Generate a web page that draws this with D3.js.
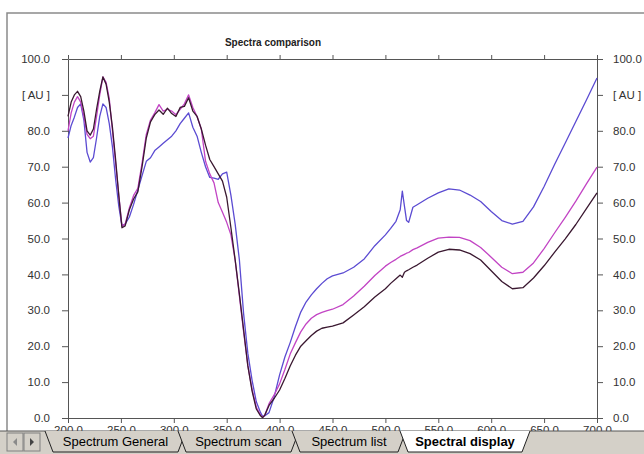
<!DOCTYPE html>
<html>
<head>
<meta charset="utf-8">
<script src="https://cdn.jsdelivr.net/npm/d3@7"></script>
<style>
body { margin: 0; background: #fff; }
svg { display: block; font-family: "Liberation Sans", Arial, sans-serif; }
</style>
</head>
<body>
<div class="chart"></div>
<script>
// wavelengths (nm) shared by the three spectra
var wavelengths = [200,203,206,209,212,215,218,221,224,227,230,233,236,239,242,245,248,251,
  254,
  258,262,266,270,274,278,282,286,290,294,298,302,306,310,314,318,322,326,330,334,338,342,346,350,354,358,362,366,370,374,378,382,
  384,386,390,395,
  400,405,410,415,420,425,430,435,440,445,450,
  460,470,480,490,500,
  505,510,514,516,518,520,522,526,530,
  540,550,560,570,580,590,600,610,620,630,640,650,660,670,680,690,700];

var darkValues = [84,88,90,91,89.5,85.5,80,78.8,80.5,86,91,95,93,88,81,72,62,53,
  53.5,
  58,61,63,70,78,82.5,84.5,85.8,84.6,86.3,84.8,84,86.5,86.8,89.2,85.5,84,80.5,76,72,70,68,66,61.5,53,44,34.5,24.5,14.5,7.5,2.5,0.6,
  0.1,0.8,3.5,5.5,
  7.8,11,14.5,17.5,20,21.5,23,24.2,25,25.3,25.6,
  26.5,28.7,31,33.7,36,
  37.5,38.8,39.8,39.2,40.6,41,41.3,42,42.6,
  44.5,46.2,47,46.8,45.8,44,41,38,36,36.3,39,42.4,46.2,49.9,53.9,58.3,62.7];

var magentaValues = [80,85,88,89.5,88,84,79,77.8,78.5,84,90,95,93.5,89,80,71,62,53.5,
  54,
  58.5,62,64,71,79,83,85,87.3,85.5,86,85.5,84.5,86,87.5,90,86.5,84,80.5,71.5,68,65.5,60,57.3,54.5,51,44,34,24,14.5,8,3,0.8,
  0.2,0.8,4,6.5,
  9.5,13.5,17.8,21,24,26.2,27.8,28.8,29.4,29.9,30.3,
  31.6,34,36.7,39.7,42.3,
  43.3,44.2,45,45.3,45.6,45.9,46.1,46.9,47.4,
  48.9,50.1,50.4,50.3,49.4,47.5,44.8,42,40.2,40.6,43.2,47.2,51.6,55.9,60.4,65.2,69.9];

var blueValues = [78,81.5,83.8,86.5,87.5,83,74,71.3,72.5,78,84,87.5,86.5,82,75.5,66.5,59,53.5,
  54,
  56,59.5,63.5,67.5,71.5,72.5,74.5,75.5,76.5,77.5,78.5,80,82,83.5,85,81,78.5,74,70,67,66.8,66.5,68,68.5,62,54,44,29,18,10.5,4.5,1.5,
  0.4,0.6,1.5,6,
  12,17,21,25.5,29.5,32.3,34.3,36,37.5,38.8,39.6,
  40.4,42,44.3,48,51,
  52.8,54.8,58,63.2,59,55,54.5,58.7,59.4,
  61.2,62.7,63.8,63.5,62.1,60.3,57.5,55,54,54.8,58.8,64.5,70.7,76.6,82.6,88.6,94.7];

var xTicks = [200,250,300,350,400,450,500,550,600,650,700];
var yTicks = [0,10,20,30,40,50,60,70,80,90,100];
var tabNames = ["Spectrum General", "Spectrum scan", "Spectrum list", "Spectral display"];
var chartTitle = "Spectra comparison";
var yUnit = "[ AU ]";

var width = 644, height = 454;
var plot = {left: 68, right: 597, top: 59, bottom: 418};
var barTop = 431;

var x = d3.scaleLinear().domain([200, 700]).range([plot.left, plot.right]);
var y = d3.scaleLinear().domain([0, 100]).range([plot.bottom, plot.top]);

var svg = d3.select(".chart").append("svg")
    .attr("width", width)
    .attr("height", height);

// x labels are half hidden by the tab bar, clip them there
svg.append("clipPath").attr("id", "above-bar")
  .append("rect")
    .attr("x", 0).attr("y", 0)
    .attr("width", width).attr("height", barTop);

// outer frame of the sheet
svg.append("path")
    .attr("d", "M7," + barTop + "V13H644")
    .attr("fill", "none")
    .attr("stroke", "#8a8a8a")
    .attr("stroke-width", 1.5);

svg.append("text")
    .attr("x", 273)
    .attr("y", 46)
    .attr("text-anchor", "middle")
    .attr("font-size", 10)
    .attr("font-weight", "bold")
    .attr("fill", "#222")
    .text(chartTitle);

function yFormat(d) { return d == 90 ? yUnit : d.toFixed(1); }

var yLeft = d3.axisLeft(y).tickValues(yTicks).tickSize(6).tickSizeOuter(0).tickPadding(12).tickFormat(yFormat);
var yRight = d3.axisRight(y).tickValues(yTicks).tickSize(6).tickSizeOuter(0).tickPadding(10).tickFormat(yFormat);
var xTop = d3.axisTop(x).tickValues(xTicks).tickSize(4).tickSizeOuter(0).tickFormat("");
var xBottom = d3.axisBottom(x).tickValues(xTicks).tickSize(5).tickSizeOuter(0).tickPadding(3)
    .tickFormat(function(d) { return d.toFixed(1); });

function styleAxis(g) {
  g.attr("font-family", null).attr("font-size", 11.5);
  g.selectAll("line").attr("stroke", "#555");
  g.select(".domain").attr("stroke", "#555");
  g.selectAll("text").attr("fill", "#333");
}

svg.append("g").attr("transform", "translate(" + plot.left + ",0)").call(yLeft).call(styleAxis);
svg.append("g").attr("transform", "translate(" + plot.right + ",0)").call(yRight).call(styleAxis);
svg.append("g").attr("transform", "translate(0," + plot.top + ")").call(xTop).call(styleAxis);
svg.append("g").attr("clip-path", "url(#above-bar)")
  .append("g").attr("transform", "translate(0," + plot.bottom + ")").call(xBottom).call(styleAxis);

// spectra
var series = [
  {name: "blue", values: blueValues, color: "#5b4bd2"},
  {name: "magenta", values: magentaValues, color: "#c244c4"},
  {name: "dark", values: darkValues, color: "#3a1830"}
];

var line = d3.line()
    .x(function(d) { return x(d[0]); })
    .y(function(d) { return y(d[1]); });

svg.selectAll(".spectrum")
    .data(series)
  .enter().append("path")
    .attr("class", "spectrum")
    .attr("fill", "none")
    .attr("stroke", function(d) { return d.color; })
    .attr("stroke-width", 1.3)
    .attr("stroke-linejoin", "round")
    .attr("d", function(d) { return line(d3.zip(wavelengths, d.values)); });

// sheet tab bar at the bottom
var bar = svg.append("g");
bar.append("rect")
    .attr("x", 0).attr("y", barTop)
    .attr("width", width).attr("height", height - barTop)
    .attr("fill", "#d4d0c8");
bar.append("line")
    .attr("x1", 0).attr("x2", width).attr("y1", barTop).attr("y2", barTop)
    .attr("stroke", "#555");

// scroll buttons
[[7, "l"], [24, "r"]].forEach(function(b) {
  bar.append("rect")
      .attr("x", b[0]).attr("y", 433).attr("width", 16).attr("height", 18)
      .attr("fill", "#d4d0c8").attr("stroke", "#808080");
  var cx = b[0] + 8, cy = 442;
  var pts = b[1] == "l" ? [[cx + 2, cy - 4], [cx + 2, cy + 4], [cx - 2, cy]] : [[cx - 2, cy - 4], [cx - 2, cy + 4], [cx + 2, cy]];
  bar.append("path")
      .attr("d", "M" + pts.join("L") + "Z")
      .attr("fill", b[1] == "l" ? "#8a8a8a" : "#444");
});

var tabs = [
  {x0: 45, x1: 186},
  {x0: 178, x1: 299},
  {x0: 292, x1: 406},
  {x0: 400, x1: 530}
];

tabs.forEach(function(t, i) {
  var active = i == tabs.length - 1;
  bar.append("path")
      .attr("d", "M" + t.x0 + "," + barTop + "L" + (t.x0 + 8) + ",452L" + (t.x1 - 8) + ",452L" + t.x1 + "," + barTop)
      .attr("fill", active ? "#fff" : "#d4d0c8")
      .attr("stroke", "#222")
      .attr("stroke-width", 1);
  bar.append("text")
      .attr("x", (t.x0 + t.x1) / 2)
      .attr("y", 446)
      .attr("text-anchor", "middle")
      .attr("font-size", 13)
      .attr("font-weight", active ? "bold" : "normal")
      .attr("fill", "#000")
      .text(tabNames[i]);
});
</script>
</body>
</html>
